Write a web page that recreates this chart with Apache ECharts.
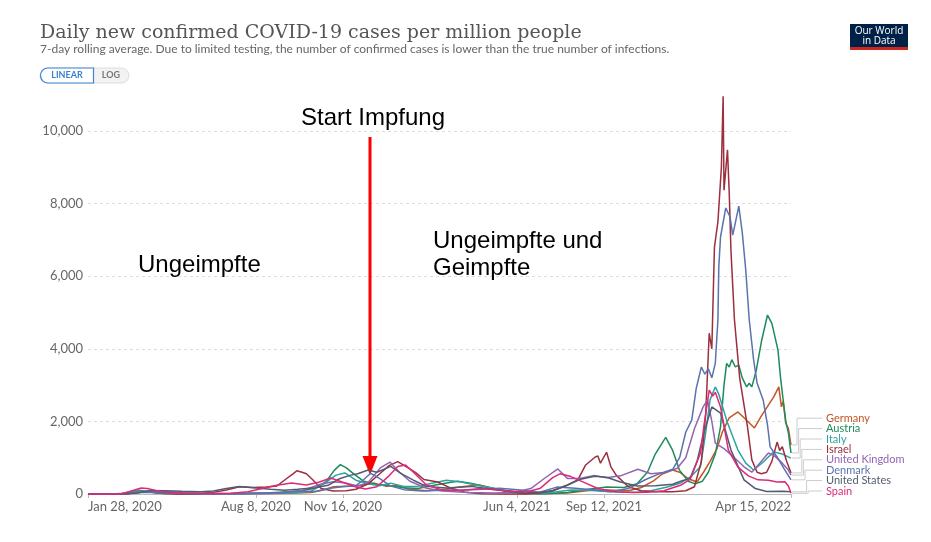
<!DOCTYPE html>
<html>
<head>
    <meta charset="utf-8">
    <title>Daily new confirmed COVID-19 cases per million people</title>
    <script src="https://cdn.jsdelivr.net/npm/echarts@6/dist/echarts.min.js"></script>
    <style>
    html, body { margin: 0; padding: 0; background: #fff; }
    #main { width: 931px; height: 542px; }
    </style>
</head>
<body>
    <div id="main"></div>
    <script>
    // x ticks shown on the axis
    const tickDates = ['2020-01-28', '2020-08-08', '2020-11-16', '2021-06-04', '2021-09-12', '2022-04-15'];
    const tickLabels = ['Jan 28, 2020', 'Aug 8, 2020', 'Nov 16, 2020', 'Jun 4, 2021', 'Sep 12, 2021', 'Apr 15, 2022'];
    const yTicks = [0, 2000, 4000, 6000, 8000, 10000];

    const countries = ['Germany', 'Austria', 'Italy', 'Israel', 'United Kingdom', 'Denmark', 'United States', 'Spain'];
    const colors = ['#C65424', '#1E8B5C', '#2EA3A0', '#9B2F3D', '#9463B4', '#5A72AD', '#525B6F', '#DD2A78'];

    // 7-day average, cases per million
    const germany = [['2020-01-28',0],['2020-03-01',1],['2020-03-15',12],['2020-03-30',72],['2020-04-06',62],['2020-04-20',25],['2020-05-15',8],['2020-06-20',6],['2020-07-15',5],['2020-08-15',15],['2020-09-15',20],['2020-10-10',40],['2020-10-25',110],['2020-11-05',200],['2020-11-20',215],['2020-12-05',230],['2020-12-22',300],['2021-01-05',210],['2021-01-15',240],['2021-02-01',130],['2021-02-20',90],['2021-03-15',140],['2021-04-01',200],['2021-04-22',250],['2021-05-15',120],['2021-06-10',30],['2021-07-01',7],['2021-08-01',25],['2021-08-31',110],['2021-09-15',110],['2021-10-10',90],['2021-10-25',180],['2021-11-08',360],['2021-11-18',550],['2021-11-30',660],['2021-12-08',600],['2021-12-18',420],['2021-12-28',330],['2022-01-05',620],['2022-01-12',900],['2022-01-20',1250],['2022-01-26',1700],['2022-02-03',2100],['2022-02-13',2260],['2022-02-20',2100],['2022-03-04',1820],['2022-03-12',2150],['2022-03-20',2450],['2022-03-26',2670],['2022-04-01',2950],['2022-04-04',2400],['2022-04-06',2550],['2022-04-09',1950],['2022-04-12',1800],['2022-04-15',1350]];
    const austria = [['2020-01-28',0],['2020-03-05',2],['2020-03-18',60],['2020-03-27',105],['2020-04-10',45],['2020-04-25',10],['2020-05-20',4],['2020-07-01',8],['2020-07-25',15],['2020-08-20',30],['2020-09-15',65],['2020-09-28',85],['2020-10-15',160],['2020-10-28',350],['2020-11-06',650],['2020-11-13',810],['2020-11-20',720],['2020-11-28',560],['2020-12-10',350],['2020-12-25',260],['2021-01-10',230],['2021-01-25',170],['2021-02-10',150],['2021-03-01',240],['2021-03-15',300],['2021-03-28',350],['2021-04-15',280],['2021-05-05',160],['2021-05-25',60],['2021-06-15',15],['2021-07-05',10],['2021-08-01',40],['2021-08-25',130],['2021-09-15',190],['2021-10-05',180],['2021-10-20',280],['2021-11-01',600],['2021-11-10',1100],['2021-11-22',1560],['2021-11-30',1200],['2021-12-08',650],['2021-12-18',350],['2021-12-26',280],['2022-01-03',350],['2022-01-10',600],['2022-01-18',1100],['2022-01-24',1850],['2022-01-28',3000],['2022-01-31',3600],['2022-02-03',3500],['2022-02-06',3700],['2022-02-10',3500],['2022-02-14',3550],['2022-02-18',3200],['2022-02-23',2950],['2022-02-26',3050],['2022-03-01',2950],['2022-03-06',3400],['2022-03-12',4200],['2022-03-19',4930],['2022-03-24',4700],['2022-03-31',3970],['2022-04-03',3200],['2022-04-06',2590],['2022-04-09',2000],['2022-04-12',1680],['2022-04-15',1130]];
    const italy = [['2020-01-28',0],['2020-02-25',1],['2020-03-10',20],['2020-03-21',90],['2020-04-05',70],['2020-04-20',50],['2020-05-10',22],['2020-06-01',7],['2020-07-01',3],['2020-08-01',5],['2020-08-25',20],['2020-09-20',26],['2020-10-10',70],['2020-10-25',280],['2020-11-08',520],['2020-11-18',580],['2020-12-01',380],['2020-12-15',280],['2020-12-28',230],['2021-01-10',300],['2021-01-25',210],['2021-02-10',210],['2021-02-25',290],['2021-03-15',380],['2021-03-30',340],['2021-04-15',260],['2021-05-05',170],['2021-05-25',75],['2021-06-15',25],['2021-07-01',15],['2021-07-20',60],['2021-08-05',110],['2021-08-25',100],['2021-09-15',70],['2021-10-05',50],['2021-10-20',50],['2021-11-05',90],['2021-11-25',200],['2021-12-10',310],['2021-12-22',500],['2022-01-01',760],['2022-01-07',1700],['2022-01-12',2600],['2022-01-18',2950],['2022-01-22',2750],['2022-02-01',1960],['2022-02-13',1210],['2022-02-22',850],['2022-03-03',660],['2022-03-15',900],['2022-03-26',1160],['2022-04-05',1100],['2022-04-15',990]];
    const israel = [['2020-01-28',0],['2020-03-10',2],['2020-03-25',40],['2020-04-05',60],['2020-04-20',28],['2020-05-10',3],['2020-06-01',4],['2020-06-20',45],['2020-07-05',110],['2020-07-20',200],['2020-08-05',180],['2020-08-20',190],['2020-09-01',220],['2020-09-12',420],['2020-09-20',560],['2020-09-24',640],['2020-09-30',600],['2020-10-05',560],['2020-10-12',400],['2020-10-22',150],['2020-11-05',80],['2020-11-20',90],['2020-12-01',130],['2020-12-15',280],['2020-12-28',550],['2021-01-08',780],['2021-01-18',890],['2021-01-30',720],['2021-02-08',580],['2021-02-17',400],['2021-03-05',330],['2021-03-20',160],['2021-04-05',50],['2021-04-25',10],['2021-05-20',3],['2021-06-15',2],['2021-06-30',30],['2021-07-15',100],['2021-08-01',250],['2021-08-13',390],['2021-08-22',800],['2021-09-02',1020],['2021-09-05',1050],['2021-09-08',850],['2021-09-15',1150],['2021-09-20',750],['2021-09-26',520],['2021-10-10',200],['2021-10-25',90],['2021-11-10',60],['2021-11-30',60],['2021-12-15',90],['2021-12-25',200],['2022-01-02',900],['2022-01-07',2200],['2022-01-11',4430],['2022-01-14',4000],['2022-01-17',6800],['2022-01-21',7500],['2022-01-25',9000],['2022-01-27',10960],['2022-01-28',8370],['2022-02-01',9480],['2022-02-03',8300],['2022-02-05',6700],['2022-02-09',4800],['2022-02-15',3200],['2022-02-24',1850],['2022-03-01',940],['2022-03-07',600],['2022-03-12',560],['2022-03-18',600],['2022-03-24',900],['2022-03-30',1430],['2022-04-02',1200],['2022-04-05',1300],['2022-04-10',900],['2022-04-15',580]];
    const unitedKingdom = [['2020-01-28',0],['2020-03-10',2],['2020-03-25',50],['2020-04-10',70],['2020-04-25',70],['2020-05-15',45],['2020-06-05',25],['2020-07-01',12],['2020-08-01',11],['2020-08-25',17],['2020-09-15',50],['2020-10-01',100],['2020-10-20',260],['2020-11-05',340],['2020-11-20',300],['2020-12-03',220],['2020-12-15',320],['2020-12-29',720],['2021-01-09',880],['2021-01-20',600],['2021-02-01',350],['2021-02-20',160],['2021-03-10',85],['2021-04-10',40],['2021-05-10',30],['2021-06-01',50],['2021-06-20',150],['2021-07-05',420],['2021-07-21',690],['2021-08-01',430],['2021-08-15',430],['2021-09-01',510],['2021-09-15',450],['2021-10-01',500],['2021-10-21',680],['2021-11-05',560],['2021-11-20',590],['2021-12-05',700],['2021-12-15',1000],['2021-12-25',1800],['2022-01-04',2400],['2022-01-09',2590],['2022-01-14',2000],['2022-01-18',1400],['2022-01-28',1250],['2022-02-08',1020],['2022-02-20',750],['2022-03-01',600],['2022-03-10',850],['2022-03-20',1130],['2022-03-27',1050],['2022-04-05',850],['2022-04-12',660],['2022-04-15',520]];
    const denmark = [['2020-01-28',0],['2020-03-10',15],['2020-03-20',40],['2020-04-05',45],['2020-04-20',30],['2020-05-15',12],['2020-06-10',6],['2020-07-10',4],['2020-08-10',25],['2020-09-01',30],['2020-09-25',80],['2020-10-15',70],['2020-10-30',150],['2020-11-15',200],['2020-12-01',230],['2020-12-10',400],['2020-12-18',570],['2020-12-28',430],['2021-01-10',220],['2021-01-25',120],['2021-02-15',80],['2021-03-10',100],['2021-04-01',100],['2021-04-25',130],['2021-05-15',160],['2021-06-05',120],['2021-06-30',50],['2021-07-20',190],['2021-08-10',160],['2021-09-01',110],['2021-09-20',60],['2021-10-10',150],['2021-10-30',400],['2021-11-15',560],['2021-11-30',680],['2021-12-08',1000],['2021-12-15',1700],['2021-12-22',2040],['2021-12-27',2900],['2022-01-02',3500],['2022-01-06',3300],['2022-01-10',3450],['2022-01-14',3200],['2022-01-18',3600],['2022-01-21',4800],['2022-01-22',6250],['2022-01-24',7080],['2022-01-30',7880],['2022-02-04',7630],['2022-02-07',7130],['2022-02-09',7350],['2022-02-14',7930],['2022-02-18',7200],['2022-02-22',6170],['2022-02-26',4800],['2022-03-03',3700],['2022-03-07',3060],['2022-03-14',2590],['2022-03-19',1900],['2022-03-22',1300],['2022-03-30',1020],['2022-04-07',700],['2022-04-15',390]];
    const unitedStates = [['2020-01-28',0],['2020-03-10',1],['2020-03-25',25],['2020-04-08',95],['2020-04-25',90],['2020-05-15',75],['2020-06-05',65],['2020-06-20',85],['2020-07-05',150],['2020-07-20',205],['2020-08-05',175],['2020-08-25',130],['2020-09-10',105],['2020-09-25',130],['2020-10-15',175],['2020-10-30',240],['2020-11-12',420],['2020-11-25',520],['2020-12-03',560],['2020-12-15',660],['2020-12-25',600],['2021-01-10',760],['2021-01-22',560],['2021-02-05',380],['2021-02-20',210],['2021-03-15',165],['2021-04-12',210],['2021-05-05',140],['2021-06-01',55],['2021-06-25',35],['2021-07-15',80],['2021-08-01',240],['2021-08-15',400],['2021-09-01',490],['2021-09-15',460],['2021-10-01',330],['2021-10-20',220],['2021-11-10',230],['2021-11-30',270],['2021-12-10',360],['2021-12-20',430],['2021-12-28',900],['2022-01-05',1700],['2022-01-14',2400],['2022-01-24',2230],['2022-02-05',1210],['2022-02-20',390],['2022-03-05',150],['2022-03-18',70],['2022-04-05',75],['2022-04-15',60]];
    const spain = [['2020-01-28',0],['2020-03-05',2],['2020-03-15',60],['2020-03-29',165],['2020-04-05',150],['2020-04-15',100],['2020-04-28',40],['2020-05-20',12],['2020-06-15',6],['2020-07-10',20],['2020-07-30',60],['2020-08-15',150],['2020-09-01',240],['2020-09-18',300],['2020-10-05',250],['2020-10-20',330],['2020-11-02',440],['2020-11-15',330],['2020-12-01',190],['2020-12-12',140],['2020-12-25',200],['2021-01-08',500],['2021-01-18',760],['2021-01-27',800],['2021-02-05',600],['2021-02-20',250],['2021-03-10',110],['2021-04-01',100],['2021-04-25',150],['2021-05-15',100],['2021-06-15',55],['2021-07-01',160],['2021-07-15',450],['2021-07-24',560],['2021-08-05',480],['2021-08-20',320],['2021-09-05',150],['2021-09-25',60],['2021-10-15',40],['2021-11-01',45],['2021-11-20',90],['2021-12-01',180],['2021-12-10',250],['2021-12-20',400],['2021-12-25',700],['2022-01-01',1130],['2022-01-05',1900],['2022-01-11',2860],['2022-01-15',2700],['2022-01-18',2800],['2022-01-24',2400],['2022-02-02',1210],['2022-02-13',740],['2022-02-25',500],['2022-03-08',390],['2022-03-20',380],['2022-03-30',330],['2022-04-08',340],['2022-04-12',220],['2022-04-15',20]];

    const countryData = [germany, austria, italy, israel, unitedKingdom, denmark, unitedStates, spain];

    const startDay = Date.UTC(2020, 0, 28);
    function toDay(s) {
        const p = s.split('-');
        return Math.round((Date.UTC(+p[0], +p[1] - 1, +p[2]) - startDay) / 864e5);
    }
    const tickDays = tickDates.map(toDay);
    const lastDay = tickDays[tickDays.length - 1];

    const myChart = echarts.init(document.getElementById('main'), null, { renderer: 'canvas' });

    const series = countries.map(function (name, i) {
        return {
            name: name,
            type: 'line',
            showSymbol: false,
            clip: false,
            animation: false,
            lineStyle: { width: 1.5, color: colors[i] },
            itemStyle: { color: colors[i] },
            data: countryData[i].map(function (d) { return [toDay(d[0]), d[1]]; })
        };
    });

    const option = {
        backgroundColor: '#fff',
        animation: false,
        grid: { left: 88, right: 140, top: 131, bottom: 48 },
        xAxis: {
            type: 'value',
            min: 0,
            max: lastDay,
            axisLine: { show: true, lineStyle: { color: '#bbb', width: 1 } },
            splitLine: { show: false },
            axisTick: { show: true, customValues: tickDays, length: 4, lineStyle: { color: '#bbb' } },
            axisLabel: {
                customValues: tickDays,
                formatter: function (v) { return tickLabels[tickDays.indexOf(v)] || ''; },
                color: '#666',
                fontFamily: 'Lato',
                fontSize: 13,
                margin: 6,
                alignMinLabel: 'left',
                alignMaxLabel: 'right'
            }
        },
        yAxis: {
            type: 'value',
            min: yTicks[0],
            max: yTicks[yTicks.length - 1],
            interval: 2000,
            axisLine: { show: false },
            axisTick: { show: false },
            axisLabel: {
                formatter: function (v) { return v.toLocaleString('en-US'); },
                color: '#666',
                fontFamily: 'Lato',
                fontSize: 13,
                margin: 5
            },
            splitLine: { lineStyle: { color: '#ddd', type: [3, 3] } }
        },
        series: series
    };
    myChart.setOption(option);

    // static texts and decoration
    const graphics = [
        { type: 'text', x: 40, y: 33, style: { text: 'Daily new confirmed COVID-19 cases per million people', font: '19px "DejaVu Serif"', fill: '#555', verticalAlign: 'middle' } },
        { type: 'text', x: 40, y: 49, style: { text: '7-day rolling average. Due to limited testing, the number of confirmed cases is lower than the true number of infections.', font: '12px Lato', fill: '#666', verticalAlign: 'middle' } },
        { type: 'rect', shape: { x: 40, y: 68, width: 89, height: 15, r: 7.5 }, style: { fill: '#f2f2f2', stroke: '#ddd' } },
        { type: 'rect', shape: { x: 40.5, y: 68, width: 53, height: 15, r: [7.5, 0, 0, 7.5] }, style: { fill: '#fff', stroke: '#3b84d4', lineWidth: 1.2 } },
        { type: 'text', x: 67, y: 75.5, style: { text: 'LINEAR', font: 'bold 9px Lato', fill: '#3b7fcf', align: 'center', verticalAlign: 'middle' } },
        { type: 'text', x: 111, y: 75.5, style: { text: 'LOG', font: 'bold 9px Lato', fill: '#777', align: 'center', verticalAlign: 'middle' } },
        { type: 'rect', shape: { x: 850, y: 24, width: 58, height: 26 }, style: { fill: '#002147' } },
        { type: 'rect', shape: { x: 850, y: 47, width: 58, height: 3 }, style: { fill: '#ce261e' } },
        { type: 'text', x: 879, y: 31, style: { text: 'Our World', font: '10px "Open Sans"', fill: '#fff', align: 'center', verticalAlign: 'middle' } },
        { type: 'text', x: 879, y: 41, style: { text: 'in Data', font: '10px "Open Sans"', fill: '#fff', align: 'center', verticalAlign: 'middle' } },
        // annotations
        { type: 'text', x: 373, y: 118, style: { text: 'Start Impfung', font: '24px "Liberation Sans"', fill: '#000', align: 'center', verticalAlign: 'middle' } },
        { type: 'text', x: 138, y: 265, style: { text: 'Ungeimpfte', font: '24px "Liberation Sans"', fill: '#000', verticalAlign: 'middle' } },
        { type: 'text', x: 433, y: 255, style: { text: 'Ungeimpfte und\nGeimpfte', font: '24px "Liberation Sans"', lineHeight: 27, fill: '#000', verticalAlign: 'middle' } },
        { type: 'line', shape: { x1: 370, y1: 137, x2: 370, y2: 458 }, style: { stroke: '#f00', lineWidth: 3 } },
        { type: 'polygon', shape: { points: [[362.5, 456], [377.5, 456], [370, 475]] }, style: { fill: '#f00' } }
    ];

    // end labels with grey guide lines, pushed apart like the original
    const ends = countries.map(function (name, i) {
        const d = countryData[i];
        const v = d[d.length - 1][1];
        const p = myChart.convertToPixel({ gridIndex: 0 }, [lastDay, v]);
        return { name: name, color: colors[i], px: p[0], py: p[1] };
    });
    ends.sort(function (a, b) { return a.py - b.py; });
    const gap = 10.4;
    for (let i = ends.length - 1; i >= 0; i--) {
        const limit = i === ends.length - 1 ? 491 : ends[i + 1].ly - gap;
        ends[i].ly = Math.min(ends[i].py, limit);
    }
    ends.forEach(function (e, i) {
        const elbow = 797 + i * 1.6;
        graphics.push({
            type: 'polyline',
            shape: { points: [[e.px + 1, e.py], [elbow, e.py], [elbow, e.ly], [822, e.ly]] },
            style: { stroke: '#ccc', lineWidth: 1, fill: null }
        });
        graphics.push({
            type: 'text', x: 826, y: e.ly,
            style: { text: e.name, font: '11px Lato', fill: e.color, verticalAlign: 'middle' }
        });
    });

    myChart.setOption({ graphic: graphics });
    </script>
</body>
</html>
